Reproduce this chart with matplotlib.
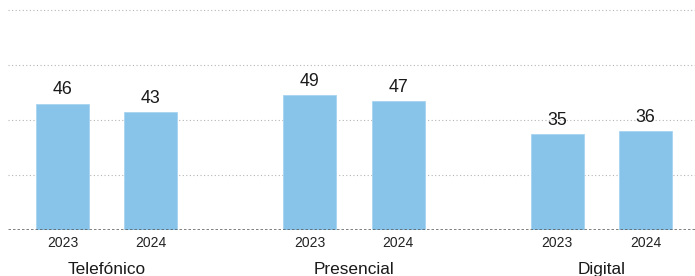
import matplotlib
matplotlib.use("Agg")
import matplotlib.pyplot as plt
import numpy as np

categories = ["Telefónico", "Presencial", "Digital"]
years = ["2023", "2024"]
values_2023 = [46, 49, 35]
values_2024 = [43, 47, 36]

plt.rcParams['font.family'] = ['Liberation Sans', 'DejaVu Sans']

fig = plt.figure(figsize=(6.95, 2.76), dpi=100)
ax = fig.add_axes([8/695, 46/276, 1 - 8/695, 230/276])

group_gap = 2.8
centers = np.arange(len(categories)) * group_gap
bar_color = "#88C3E9"
width = 0.6

xs, labels = [], []
for vals, off, yr in ((values_2023, -0.5, years[0]), (values_2024, 0.5, years[1])):
    pos = centers + off
    bars = ax.bar(pos, vals, width=width, color=bar_color, edgecolor="#a8d4f1",
                  linewidth=0.6, zorder=2)
    for b, v in zip(bars, vals):
        ax.annotate(str(v), xy=(b.get_x() + b.get_width() / 2, v), xytext=(0, 6.5),
                    textcoords="offset points", ha="center", va="baseline",
                    fontsize=12.8, color="#1a1a1a")
    xs.extend(pos)
    labels.extend([yr] * len(pos))

ax.set_xticks(xs)
ax.set_xticklabels(labels, fontsize=10, color="#222222")
ax.tick_params(axis="x", length=0, pad=4.5)
ax.set_yticks([])

for c, name in zip(centers, categories):
    ax.annotate(name, xy=(c, 0), xycoords=("data", "axes fraction"), xytext=(0, -31.5),
                textcoords="offset points", ha="center", va="baseline",
                fontsize=12.4, color="#1a1a1a", annotation_clip=False)

for y in [20, 40, 60, 80]:
    ax.axhline(y, color="#b5b5b5", linestyle=(0, (1, 2.2)), linewidth=0.8, zorder=1)
ax.axhline(0, color="#5a5a5a", linestyle=(0, (1, 0.8)), linewidth=1.8, zorder=3)

ax.set_xlim(-1.116, 6.66)
ax.set_ylim(0, 80 + 20 * 10 / 55)
for s in ax.spines.values():
    s.set_visible(False)

fig.savefig("out.png", dpi=100)
